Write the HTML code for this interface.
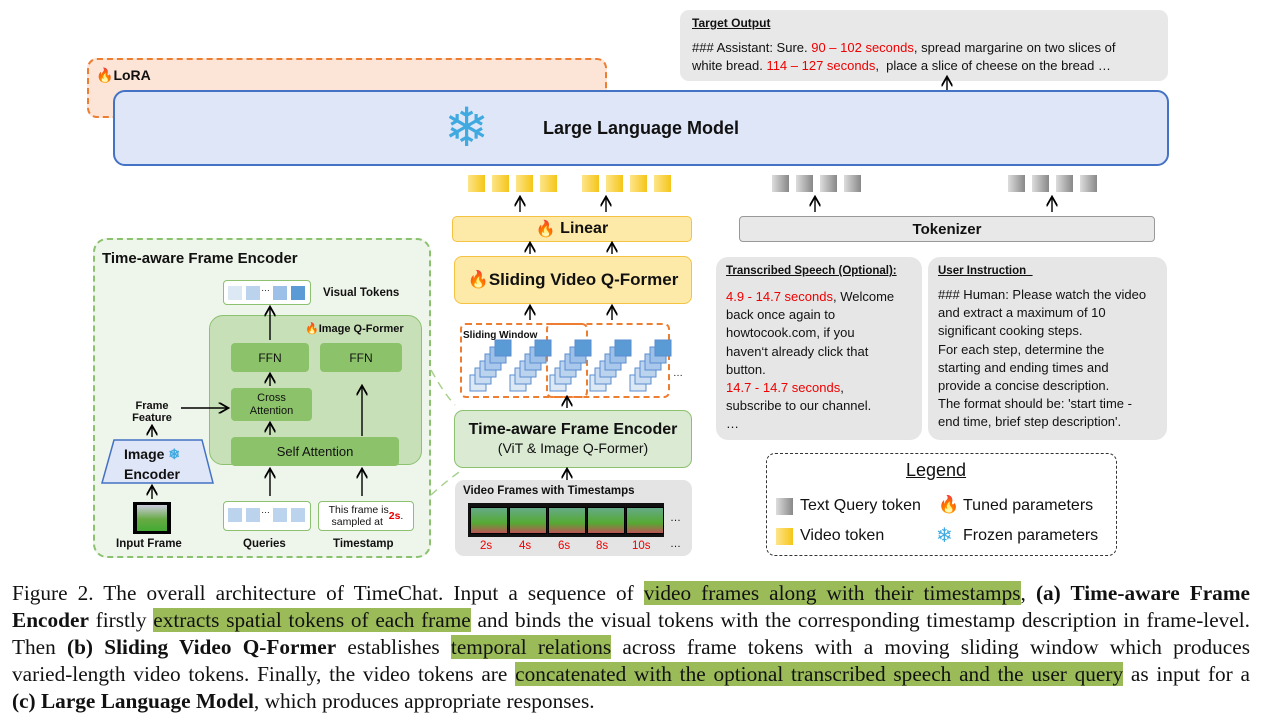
<!DOCTYPE html>
<html><head><meta charset="utf-8"><style>
body{margin:0;width:1267px;height:725px;background:#fff;position:relative;overflow:hidden;font-family:"Liberation Sans",sans-serif;color:#111}
.a{position:absolute;box-sizing:border-box}
.c{display:flex;align-items:center;justify-content:center;text-align:center}
.b{font-weight:bold}
.r{color:#e00}
.yt{position:absolute;width:17px;height:17px;background:linear-gradient(90deg,#fde58a,#f5c518)}
.gt{position:absolute;width:17px;height:17px;background:linear-gradient(90deg,#ddd,#888)}
.cap{position:absolute;left:12px;width:1238px;font-family:"Liberation Serif",serif;font-size:21.3px;white-space:nowrap;text-align:justify;text-align-last:justify}
.hl{background:#9bbb59}
.fr{position:absolute;top:507px;width:36px;height:25px;background:linear-gradient(#6a8 ,#5a3 60%,#b55);border:1px solid #000}
</style></head><body>
<div class="a" style="left:87px;top:58px;width:520px;height:60px;background:#fce4d6;border:2px dashed #ed7d31;border-radius:10px"></div>
<div class="a b" style="left:96px;top:67px;font-size:14px"><span style="color:#f60">🔥</span>LoRA</div>
<div class="a c b" style="left:113px;top:90px;width:1056px;height:76px;background:#dfe6f7;border:2px solid #4472c4;border-radius:12px;font-size:18px">Large Language Model</div>
<div class="a" style="left:444px;top:98px;font-size:54px;color:#3fa9e0;line-height:60px">❄</div>
<div class="a" style="left:680px;top:10px;width:488px;height:71px;background:#e8e8e8;border-radius:9px"></div>
<div class="a b" style="left:692px;top:16px;font-size:12px;text-decoration:underline">Target Output</div>
<div class="a" style="left:692px;top:39px;font-size:13px;line-height:18px">### Assistant: Sure. <span class="r">90 – 102 seconds</span>, spread margarine on two slices of<br>white bread. <span class="r">114 – 127 seconds</span>,&nbsp; place a slice of cheese on the bread …</div>
<div class="yt" style="left:468px;top:175px"></div><div class="yt" style="left:492px;top:175px"></div><div class="yt" style="left:516px;top:175px"></div><div class="yt" style="left:540px;top:175px"></div>
<div class="yt" style="left:582px;top:175px"></div><div class="yt" style="left:606px;top:175px"></div><div class="yt" style="left:630px;top:175px"></div><div class="yt" style="left:654px;top:175px"></div>
<div class="gt" style="left:772px;top:175px"></div><div class="gt" style="left:796px;top:175px"></div><div class="gt" style="left:820px;top:175px"></div><div class="gt" style="left:844px;top:175px"></div>
<div class="gt" style="left:1008px;top:175px"></div><div class="gt" style="left:1032px;top:175px"></div><div class="gt" style="left:1056px;top:175px"></div><div class="gt" style="left:1080px;top:175px"></div>
<div class="a c b" style="left:452px;top:216px;width:240px;height:26px;background:#fde9a8;border:1.5px solid #f5c242;border-radius:5px;font-size:16px"><span style="color:#f60">🔥</span>&nbsp;Linear</div>
<div class="a c b" style="left:739px;top:216px;width:416px;height:26px;background:#e8e8e8;border:1.5px solid #999;border-radius:4px;font-size:15px">Tokenizer</div>
<div class="a c b" style="left:454px;top:256px;width:238px;height:48px;background:#fde9a8;border:1.5px solid #f5c242;border-radius:8px;font-size:17px"><span style="color:#f60">🔥</span>Sliding Video Q-Former</div>
<div class="a" style="left:460px;top:323px;width:210px;height:75px;border:2px dashed #ed7d31;border-radius:6px"></div>
<div class="a" style="left:546px;top:323px;width:42px;height:75px;border:2px dashed #ed7d31;border-radius:6px"></div>
<div class="a b" style="left:463px;top:330px;font-size:10px">Sliding Window</div>
<div class="a" style="left:673px;top:368px;font-size:10px">…</div>
<div class="a c" style="left:454px;top:410px;width:238px;height:58px;background:#dbead3;border:1.5px solid #8bc16f;border-radius:9px;flex-direction:column;line-height:19px"><span class="b" style="font-size:16px">Time-aware Frame Encoder</span><span style="font-size:14px">(ViT &amp; Image Q-Former)</span></div>
<div class="a" style="left:455px;top:480px;width:237px;height:76px;background:#e4e4e4;border-radius:9px"></div>
<div class="a b" style="left:463px;top:485px;font-size:11.5px">Video Frames with Timestamps</div>
<div class="a" style="left:468px;top:503px;width:196px;height:34px;background:#111"></div>
<div class="fr" style="left:470px"></div><div class="fr" style="left:509px"></div><div class="fr" style="left:548px"></div><div class="fr" style="left:587px"></div><div class="fr" style="left:626px"></div>
<div class="a" style="left:670px;top:512px;font-size:11px">…</div>
<div class="a r" style="left:480px;top:540px;font-size:11.5px">2s</div><div class="a r" style="left:519px;top:540px;font-size:11.5px">4s</div><div class="a r" style="left:558px;top:540px;font-size:11.5px">6s</div><div class="a r" style="left:596px;top:540px;font-size:11.5px">8s</div><div class="a r" style="left:632px;top:540px;font-size:11.5px">10s</div><div class="a" style="left:670px;top:538px;font-size:11px">…</div>
<div class="a" style="left:716px;top:257px;width:206px;height:183px;background:#e6e6e6;border-radius:12px"></div>
<div class="a b" style="left:726px;top:265px;font-size:11.5px;text-decoration:underline">Transcribed Speech (Optional):</div>
<div class="a" style="left:726px;top:288px;font-size:13px;line-height:18.2px"><span class="r">4.9 - 14.7 seconds</span>, Welcome<br>back once again to<br>howtocook.com, if you<br>haven‘t already click that<br>button.<br><span class="r">14.7 - 14.7 seconds</span>,<br>subscribe to our channel.<br>…</div>
<div class="a" style="left:928px;top:257px;width:239px;height:183px;background:#e6e6e6;border-radius:12px"></div>
<div class="a b" style="left:938px;top:265px;font-size:11.5px;text-decoration:underline">User Instruction&nbsp;&nbsp;</div>
<div class="a" style="left:938px;top:286px;font-size:13px;line-height:18.2px">### Human: Please watch the video<br>and extract a maximum of 10<br>significant cooking steps.<br>For each step, determine the<br>starting and ending times and<br>provide a concise description.<br>The format should be: 'start time -<br>end time, brief step description'.</div>
<div class="a" style="left:766px;top:453px;width:351px;height:103px;border:1.5px dashed #333;border-radius:9px"></div>
<div class="a" style="left:906px;top:460px;font-size:18px;text-decoration:underline">Legend</div>
<div class="gt" style="left:776px;top:498px"></div><div class="a" style="left:800px;top:497px;font-size:16px">Text Query token</div>
<div class="yt" style="left:776px;top:528px"></div><div class="a" style="left:800px;top:527px;font-size:16px">Video token</div>
<div class="a" style="left:938px;top:495px;font-size:17px;color:#f60">🔥</div><div class="a" style="left:963px;top:497px;font-size:16px">Tuned parameters</div>
<div class="a" style="left:936px;top:523px;font-size:20px;color:#3fa9e0">❄</div><div class="a" style="left:963px;top:527px;font-size:16px">Frozen parameters</div>
<div class="a" style="left:93px;top:238px;width:338px;height:320px;background:#eef5ea;border:2px dashed #8bc16f;border-radius:14px"></div>
<div class="a b" style="left:102px;top:250px;font-size:15px">Time-aware Frame Encoder</div>
<div class="a" style="left:223px;top:280px;width:88px;height:25px;background:#fff;border:1.5px solid #8bc16f;border-radius:4px"></div>
<div class="a" style="left:228px;top:286px;width:14px;height:14px;background:#dde8f5"></div><div class="a" style="left:246px;top:286px;width:14px;height:14px;background:#bcd3ee"></div><div class="a" style="left:261px;top:283px;font-size:9px">…</div><div class="a" style="left:273px;top:286px;width:14px;height:14px;background:#9dc0e8"></div><div class="a" style="left:291px;top:286px;width:14px;height:14px;background:#5b9bd5"></div>
<div class="a b" style="left:323px;top:287px;font-size:11.5px">Visual Tokens</div>
<div class="a" style="left:209px;top:315px;width:213px;height:150px;background:#c8e0b8;border:1.5px solid #8bc16f;border-radius:14px"></div>
<div class="a b" style="left:305px;top:322px;font-size:11px"><span style="color:#f60">🔥</span>Image Q-Former</div>
<div class="a c" style="left:231px;top:343px;width:78px;height:29px;background:#8cc36a;border-radius:4px;font-size:12px">FFN</div>
<div class="a c" style="left:320px;top:343px;width:82px;height:29px;background:#8cc36a;border-radius:4px;font-size:12px">FFN</div>
<div class="a c" style="left:231px;top:388px;width:81px;height:33px;background:#8cc36a;border-radius:4px;font-size:11px;line-height:13px">Cross<br>Attention</div>
<div class="a c" style="left:231px;top:437px;width:168px;height:29px;background:#8cc36a;border-radius:4px;font-size:13px">Self Attention</div>
<div class="a b" style="left:120px;top:400px;width:64px;font-size:11px;line-height:12px;text-align:center">Frame<br>Feature</div>
<svg class="a" style="left:100px;top:439px" width="116" height="46"><polygon points="14,1 102,1 113,44 2,44" fill="#dfe6f7" stroke="#4472c4" stroke-width="1.5"/></svg>
<div class="a b" style="left:112px;top:444px;width:80px;font-size:14px;line-height:20px;text-align:center">Image <span style="color:#3fa9e0">❄</span><br>Encoder</div>
<div class="a" style="left:133px;top:502px;width:38px;height:32px;background:linear-gradient(#ccd,#6a4 55%,#4a3);border:3px solid #000;border-left-width:4px;border-right-width:4px"></div>
<div class="a b" style="left:116px;top:538px;font-size:11.5px">Input Frame</div>
<div class="a" style="left:223px;top:501px;width:88px;height:30px;background:#fff;border:1.5px solid #8bc16f;border-radius:4px"></div>
<div class="a" style="left:228px;top:508px;width:14px;height:14px;background:#bcd3ee"></div><div class="a" style="left:246px;top:508px;width:14px;height:14px;background:#bcd3ee"></div><div class="a" style="left:261px;top:505px;font-size:9px">…</div><div class="a" style="left:273px;top:508px;width:14px;height:14px;background:#bcd3ee"></div><div class="a" style="left:291px;top:508px;width:14px;height:14px;background:#bcd3ee"></div>
<div class="a c" style="left:318px;top:501px;width:96px;height:30px;background:#fff;border:1.5px solid #8bc16f;border-radius:4px;font-size:10.5px;line-height:12px">This frame is<br>sampled at&nbsp;<b class="r">2s</b>.</div>
<div class="a b" style="left:243px;top:538px;font-size:11.5px">Queries</div>
<div class="a b" style="left:333px;top:538px;font-size:11.5px">Timestamp</div>
<svg class="a" style="left:0;top:0" width="1267" height="570">
<defs><marker id="m" markerWidth="8" markerHeight="8" refX="6" refY="4" orient="auto"><path d="M0,0 L7,4 L0,8" fill="none" stroke="#000" stroke-width="1.3"/></marker></defs>
<g stroke="#000" stroke-width="1.4" marker-end="url(#m)">
<line x1="947" y1="90" x2="947" y2="78"/>
<line x1="520" y1="212" x2="520" y2="198"/><line x1="606" y1="212" x2="606" y2="198"/>
<line x1="815" y1="212" x2="815" y2="198"/><line x1="1052" y1="212" x2="1052" y2="198"/>
<line x1="530" y1="254" x2="530" y2="244"/><line x1="612" y1="254" x2="612" y2="244"/>
<line x1="530" y1="320" x2="530" y2="307"/><line x1="612" y1="320" x2="612" y2="307"/>
<line x1="567" y1="408" x2="567" y2="398"/><line x1="567" y1="480" x2="567" y2="470"/>
<line x1="270" y1="340" x2="270" y2="308"/><line x1="270" y1="386" x2="270" y2="375"/>
<line x1="270" y1="435" x2="270" y2="424"/><line x1="362" y1="436" x2="362" y2="387"/>
<line x1="270" y1="496" x2="270" y2="470"/><line x1="362" y1="496" x2="362" y2="470"/>
<line x1="181" y1="408" x2="227" y2="408"/>
<line x1="152" y1="437" x2="152" y2="427"/><line x1="152" y1="499" x2="152" y2="487"/>
</g>
<g stroke="#a9d18e" stroke-width="1.5" stroke-dasharray="8,6" fill="none">
<path d="M431,370 Q445,395 455,405"/><path d="M431,495 Q445,482 462,470"/>
</g>
<g id="st"></g>
</svg>
<script>
var g=document.getElementById('st'),h='';
var cols=['#dde8f5','#cadcf1','#bcd3ee','#a9c8eb','#9dc0e8','#5b9bd5'];
[470,510,550,590,630].forEach(function(x0){for(var i=0;i<6;i++){h+='<rect x="'+(x0+i*5)+'" y="'+(375-i*7)+'" width="16" height="16" fill="'+cols[i]+'" stroke="#5b8ed0" stroke-width="1"/>';}});
g.innerHTML=h;
</script>
<div class="cap" style="top:581px">Figure 2. The overall architecture of TimeChat. Input a sequence of <span class="hl">video frames along with their timestamps</span>, <b>(a) Time-aware Frame</b></div>
<div class="cap" style="top:608px"><b>Encoder</b> firstly <span class="hl">extracts spatial tokens of each frame</span> and binds the visual tokens with the corresponding timestamp description in frame-level.</div>
<div class="cap" style="top:635px">Then <b>(b) Sliding Video Q-Former</b> establishes <span class="hl">temporal relations</span> across frame tokens with a moving sliding window which produces</div>
<div class="cap" style="top:662px">varied-length video tokens. Finally, the video tokens are <span class="hl">concatenated with the optional transcribed speech and the user query</span> as input for a</div>
<div class="cap" style="top:689px;text-align-last:left"><b>(c) Large Language Model</b>, which produces appropriate responses.</div>
</body></html>
